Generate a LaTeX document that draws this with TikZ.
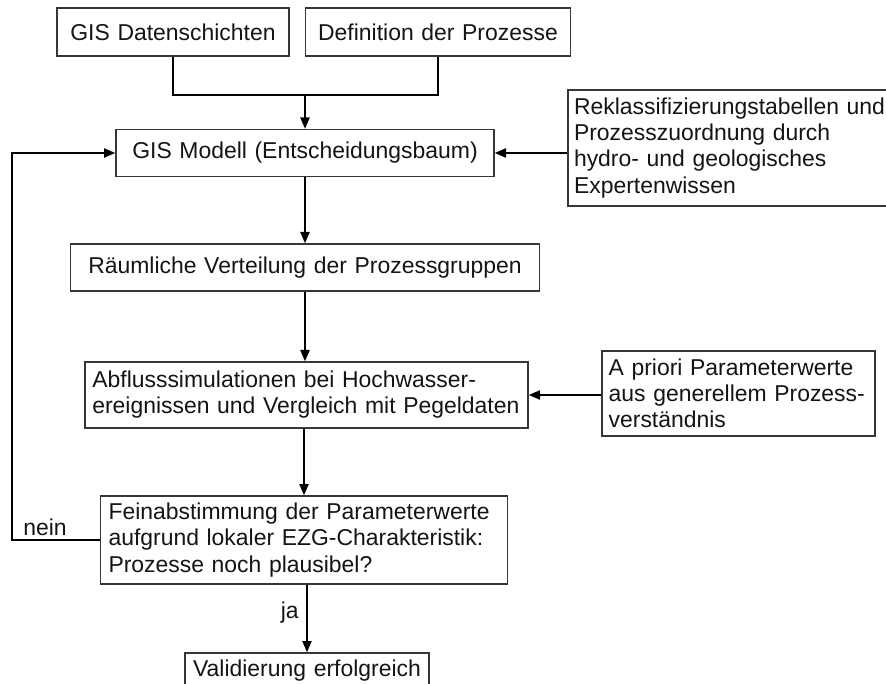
\documentclass[tikz,border=0pt]{standalone}
\usepackage{fontspec}
\setmainfont{Liberation Sans}
\usetikzlibrary{arrows.meta}
\definecolor{boxgray}{RGB}{55,55,55}
\definecolor{txt}{RGB}{20,20,20}
\begin{document}
\begin{tikzpicture}[x=0.75pt,y=-0.75pt,
  box/.style={draw=boxgray, line width=1pt, inner ysep=0pt, text=txt,
    font=\fontsize{17.2pt}{19.6pt}\selectfont},
  conn/.style={draw=black, line width=1.5pt},
  arr/.style={conn, -{Triangle[length=8.5pt,width=6.8pt]}},
  lbl/.style={text=txt, font=\fontsize{17.2pt}{19.6pt}\selectfont, inner sep=0pt}]
\useasboundingbox (0,0) rectangle (886,684);
\clip (0,0) rectangle (886,684);

\node[box, minimum width=174pt, minimum height=36pt, text width=166pt, inner xsep=4pt, align=center] (gis) at (173,32) {GIS Datenschichten};
\node[box, minimum width=198.75pt, minimum height=36pt, text width=190.75pt, inner xsep=4pt, align=center] (def) at (438,32) {Definition der Prozesse};
\node[box, minimum width=283.5pt, minimum height=35.25pt, text width=275.5pt, inner xsep=4pt, align=center] (model) at (305,153) {GIS Modell (Entscheidungsbaum)};
\node[box, minimum width=247.5pt, minimum height=87pt, text width=238.5pt, inner xsep=4.5pt, align=left] (rek) at (733,148) {Reklassifizierungstabellen und\\Prozesszuordnung durch\\hydro- und geologisches\\Expertenwissen};
\node[box, minimum width=351.75pt, minimum height=35.25pt, text width=343.75pt, inner xsep=4pt, align=center] (raum) at (305,267.5) {Räumliche Verteilung der Prozessgruppen};
\node[box, minimum width=332.25pt, minimum height=49.5pt, text width=321.25pt, inner xsep=5.5pt, align=left] (abf) at (306.5,395) {Abflusssimulationen bei Hochwasser-\\ereignissen und Vergleich mit Pegeldaten};
\node[box, minimum width=204.75pt, minimum height=63.75pt, text width=194.75pt, inner xsep=5pt, align=left] (apr) at (738.5,393.5) {A priori Parameterwerte\\aus generellem Prozess-\\verständnis};
\node[box, minimum width=305.25pt, minimum height=66pt, text width=293.25pt, inner xsep=6pt, align=left] (fein) at (304,540) {Feinabstimmung der Parameterwerte\\aufgrund lokaler EZG-Charakteristik:\\Prozesse noch plausibel?};
\node[box, minimum width=183pt, minimum height=27pt, text width=175pt, inner xsep=4pt, align=center] (val) at (307,671) {Validierung erfolgreich};

\coordinate (j1) at (305,95);
\coordinate (loopx) at (12,0);

\draw[conn] (gis.south) |- (j1) -| (def.south);
\draw[arr] (j1) -- (model.north);
\draw[arr] (rek.west |- model.east) -- (model.east);
\draw[arr] (model.south) -- (model.south |- raum.north);
\draw[arr] (raum.south) -- (raum.south |- abf.north);
\draw[arr] (apr.west |- abf.east) -- (abf.east);
\draw[arr] (fein.north |- abf.south) -- (fein.north);
\draw[arr] (fein.west) -| (loopx |- model.west) -- (model.west);
\draw[arr] (val.north |- fein.south) -- (val.north);

\node[lbl, anchor=base west] (nein) at (23,535) {nein};
\node[lbl, anchor=base east] (ja) at (299,618) {ja};
\end{tikzpicture}
\end{document}
